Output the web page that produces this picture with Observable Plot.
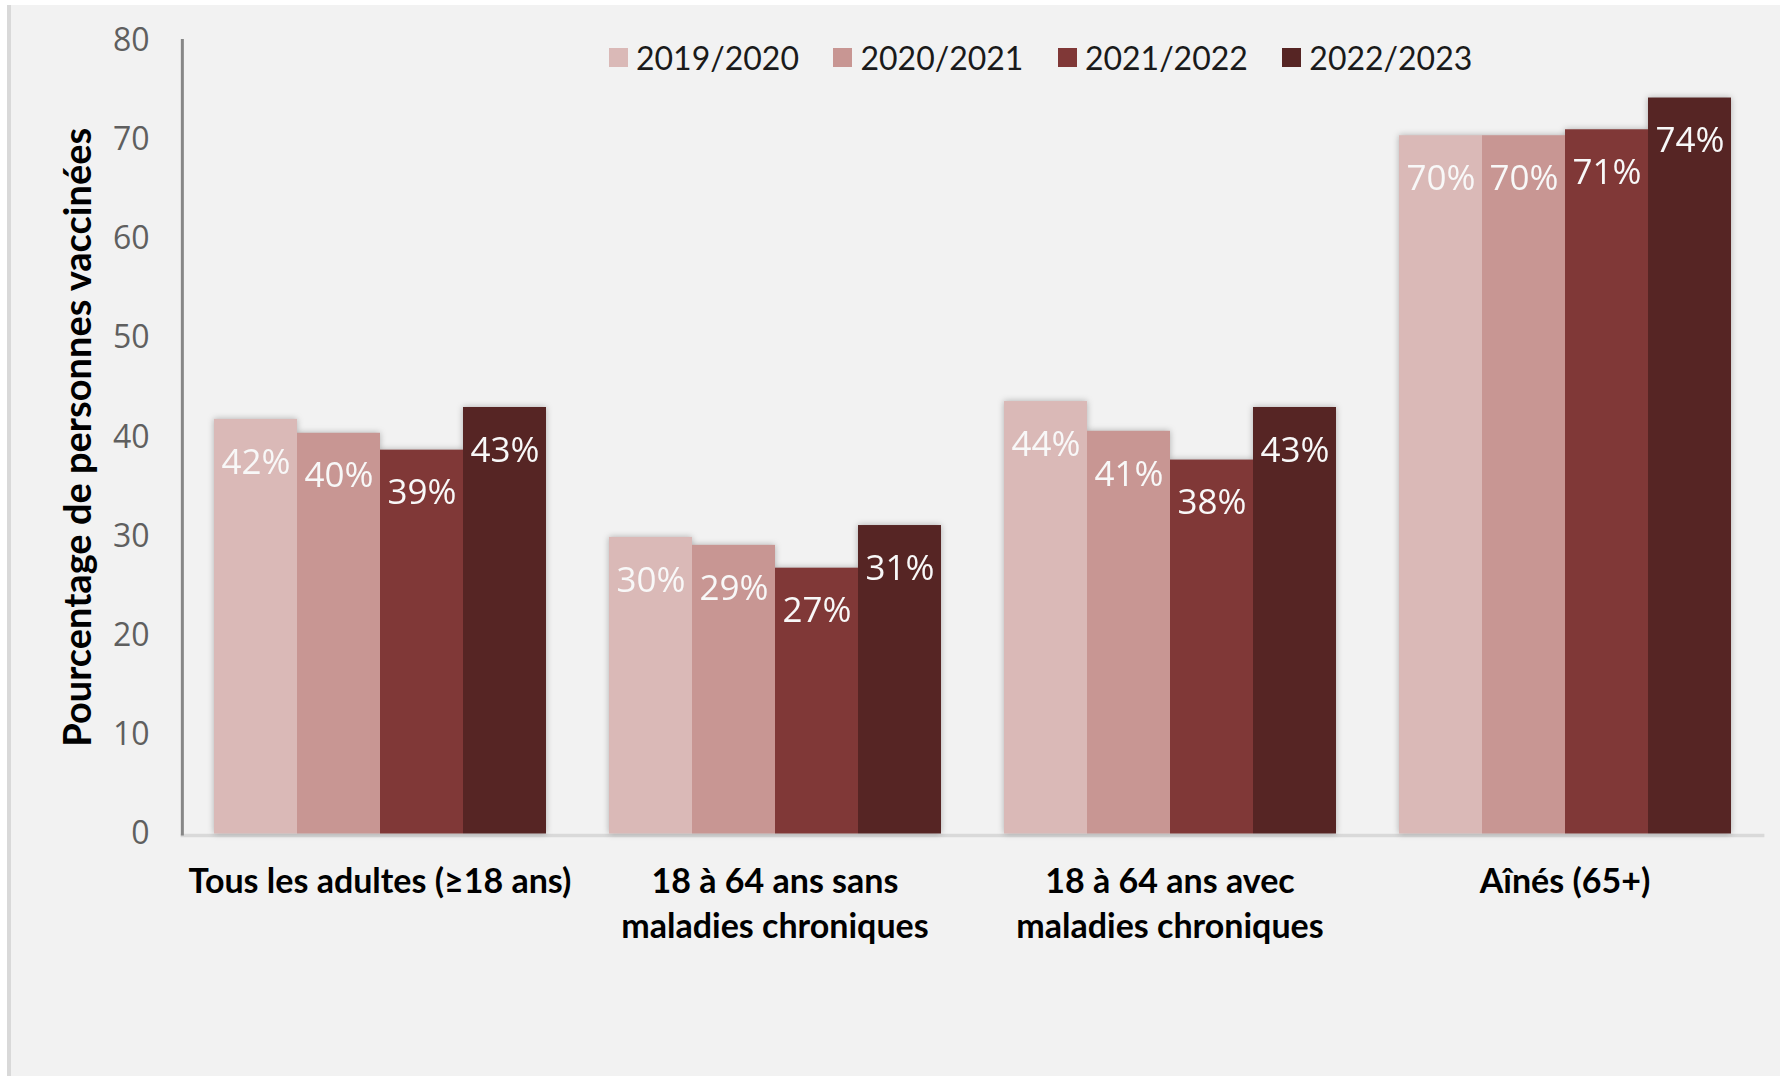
<!DOCTYPE html>
<html>
<head>
<meta charset="utf-8">
<script src="https://cdn.jsdelivr.net/npm/d3@7"></script>
<script src="https://cdn.jsdelivr.net/npm/@observablehq/plot@0.6"></script>
<style>
  html, body { margin: 0; padding: 0; background: #ffffff; width: 1780px; height: 1076px; overflow: hidden; }
  #bg { position: absolute; left: 7px; top: 5px; right: 0; bottom: 0; background: #f2f2f2; border-left: 4px solid #d9d9d9; }
  #chart { position: absolute; left: 0; top: 0; }
  #chart svg g[aria-label="bar"] { filter: drop-shadow(0px 0px 3px rgba(0,0,0,0.28)); }
  #legend { position: absolute; left: 609px; top: 38px; display: flex; align-items: center; font-family: Lato, "Open Sans", sans-serif; font-size: 32px; color: #1a1a1a; }
  #legend .item { display: flex; align-items: center; margin-right: 34.5px; }
  #legend .sw { width: 19px; height: 19px; margin-right: 8px; }
</style>
</head>
<body>
<div id="bg"></div>
<div id="chart"></div>
<div id="legend"></div>
<script>
// ---- Data ----
const categories = [
  "Tous les adultes (≥18 ans)",
  "18 à 64 ans sans\nmaladies chroniques",
  "18 à 64 ans avec\nmaladies chroniques",
  "Aînés (65+)"
];
const seasons = ["2019/2020", "2020/2021", "2021/2022", "2022/2023"];
const values2019_2020 = [41.8, 29.9, 43.6, 70.4];
const values2020_2021 = [40.4, 29.1, 40.6, 70.4];
const values2021_2022 = [38.7, 26.8, 37.7, 71.0];
const values2022_2023 = [43.0, 31.1, 43.0, 74.2];
const yTicks = [0, 10, 20, 30, 40, 50, 60, 70, 80];
const yTitle = "Pourcentage de personnes vaccinées";
const colors = ["#dab9b7", "#c89693", "#803837", "#562524"];

const seriesValues = [values2019_2020, values2020_2021, values2021_2022, values2022_2023];
const rows = seasons.flatMap((s, i) =>
  categories.map((c, j) => ({ category: c, season: s, value: seriesValues[i][j] }))
);

// layout settings
const W = 1780, H = 1076, mL = 181, mR = 17, mT = 40, mB = 242.5;
const padInner = 0.1575, padOuter = 0.07875;
// the super-facet frame spans the facets only; extend it over the fx outer padding
const fxStep = (W - mL - mR) / categories.length;
const outer = padOuter * fxStep;

const chart = Plot.plot({
  width: W,
  height: H,
  marginTop: mT,
  marginBottom: mB,
  marginLeft: mL,
  marginRight: mR,
  style: { background: "transparent", fontFamily: "Lato, 'Open Sans', sans-serif", overflow: "visible" },
  fx: { domain: categories, paddingInner: padInner, paddingOuter: padOuter, label: null },
  x: { domain: seasons, padding: 0, axis: null },
  y: { domain: [0, 80], axis: null },
  color: { domain: seasons, range: colors },
  marks: [
    Plot.frame({ anchor: "bottom", facet: "super", stroke: "#d9d9d9", strokeWidth: 3.5, dy: 1.5, insetLeft: -outer, insetRight: -outer }),
    Plot.barY(rows, { fx: "category", x: "season", y: "value", fill: "season" }),
    Plot.text(rows, {
      fx: "category", x: "season", y: "value",
      text: d => Math.round(d.value) + "%",
      dy: 43, lineAnchor: "middle",
      fill: "#f8f8f8", fontSize: 35, fontFamily: "'Open Sans', sans-serif"
    }),
    Plot.frame({ anchor: "left", facet: "super", stroke: "#878787", strokeWidth: 3, insetLeft: -outer }),
    Plot.axisY({
      ticks: yTicks, tickSize: 0, tickPadding: 64, label: null,
      fontSize: 32, fontFamily: "'Open Sans', sans-serif", fill: "#5f5f5f"
    }),
    Plot.axisY({
      ticks: [], label: yTitle, labelAnchor: "center", labelArrow: "none",
      labelOffset: 149, fontSize: 38, fontWeight: "bold", fill: "#000"
    }),
    Plot.axisFx({
      anchor: "bottom", tickSize: 0, tickPadding: 26.5, label: null,
      fontSize: 34, fontWeight: "bold", lineHeight: 1.335, fill: "#000"
    })
  ]
});
document.getElementById("chart").appendChild(chart);

// ---- Legend (HTML, overlaid inside the plot area) ----
const legend = document.getElementById("legend");
seasons.forEach((s, i) => {
  const item = document.createElement("div");
  item.className = "item";
  const sw = document.createElement("div");
  sw.className = "sw";
  sw.style.background = colors[i];
  const label = document.createElement("span");
  label.textContent = s;
  item.appendChild(sw);
  item.appendChild(label);
  legend.appendChild(item);
});
</script>
</body>
</html>
